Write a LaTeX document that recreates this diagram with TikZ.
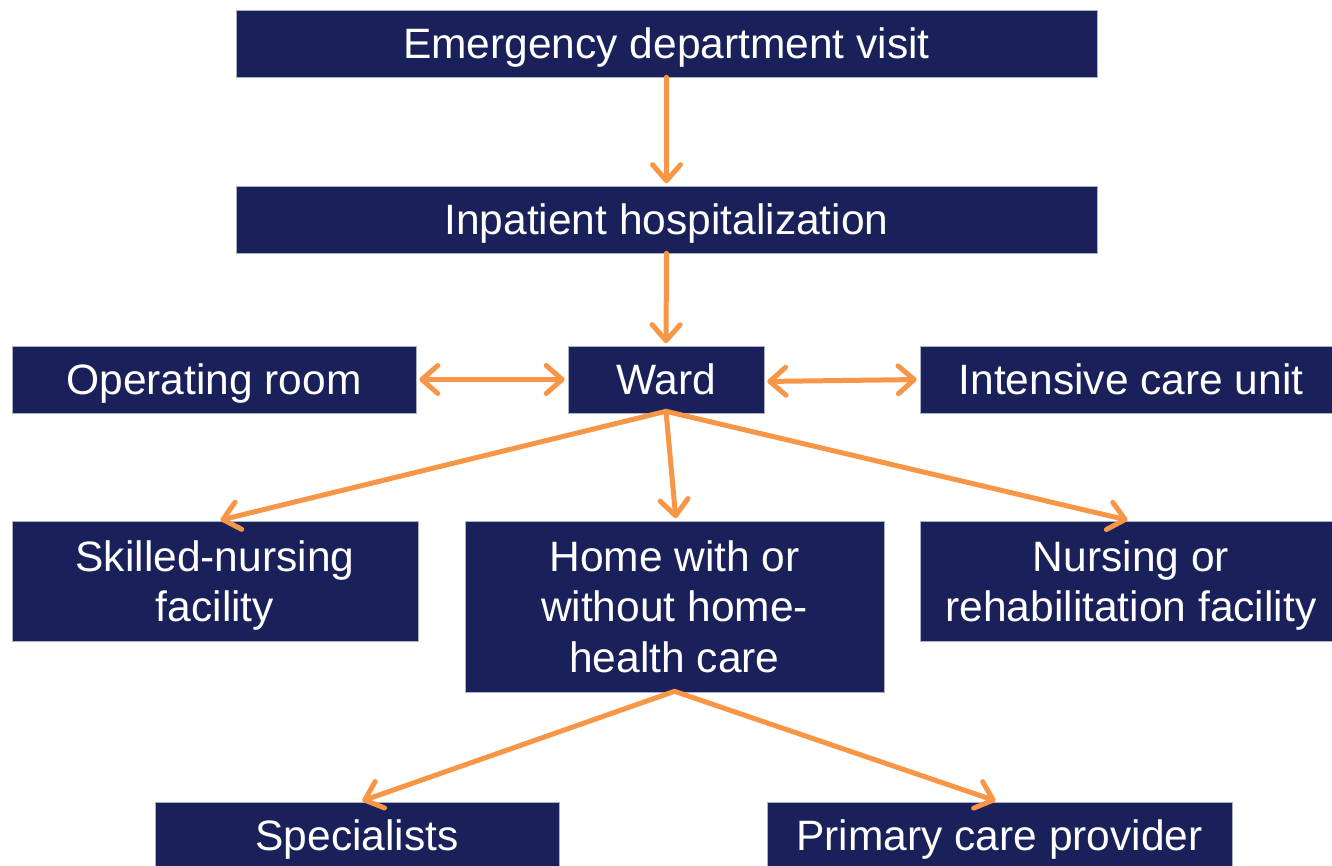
\documentclass[tikz,border=0pt]{standalone}
\usepackage{fontspec}
\setmainfont{Liberation Sans}
\usetikzlibrary{arrows.meta}
\definecolor{navy}{RGB}{26,33,90}
\definecolor{boxedge}{RGB}{170,176,200}
\definecolor{arroworange}{RGB}{247,150,70}
\tikzset{
  box/.style={fill=navy, draw=boxedge, line width=0.6pt, text=white, inner sep=0pt,
    font=\fontsize{42.5}{50.5}\selectfont, align=center, text depth=0pt},
  conn/.style={draw=arroworange, line width=5pt, line cap=round,
    -{Straight Barb[length=16pt, width=28pt, line cap=round, line join=round]},
    shorten >=2.5pt},
  dconn/.style={draw=arroworange, line width=5pt, line cap=round,
    {Straight Barb[length=16pt, width=28pt, line cap=round, line join=round]}-{Straight Barb[length=16pt, width=28pt, line cap=round, line join=round]},
    shorten >=3pt, shorten <=3pt}
}
\begin{document}
\begin{tikzpicture}[x=1pt,y=-1pt]
\useasboundingbox (0,0) rectangle (1332,866);
\clip (0,0) rectangle (1332,866);
\node[box, minimum width=861pt, minimum height=67pt] (ed) at (666.5,43.5) {Emergency department visit};
\node[box, minimum width=861pt, minimum height=67pt] (inp) at (666.5,219.5) {Inpatient hospitalization};
\node[box, minimum width=404pt, minimum height=67pt] (or) at (214,379.5) {Operating room};
\node[box, minimum width=196pt, minimum height=67pt] (ward) at (666,379.5) {Ward};
\node[box, minimum width=422pt, minimum height=67pt] (icu) at (1131,379.5) {Intensive care unit};
\node[box, minimum width=406pt, minimum height=120pt] (snf) at (215,581) {Skilled-nursing\\facility};
\node[box, minimum width=419pt, minimum height=171pt] (home) at (674.5,606.5) {Home with or\\without home-\\health care};
\node[box, minimum width=422pt, minimum height=120pt] (nrf) at (1131,581) {Nursing or\\rehabilitation facility};
\node[box, minimum width=404pt, minimum height=67pt] (spec) at (357,835.5) {Specialists};
\node[box, minimum width=465pt, minimum height=67pt] (pcp) at (999.5,835.5) {Primary care provider};

\draw[conn] (ed.south) -- (inp.north);
\draw[conn] (inp.south) -- (ward.north);
\draw[dconn] (or.east) -- (ward.west);
\draw[dconn] ([yshift=-2pt]ward.east) -- (icu.west);
\draw[conn] ([yshift=2pt]ward.south) -- ([xshift=3pt]snf.north);
\draw[conn] ([yshift=2pt]ward.south) -- ([xshift=1.5pt]home.north);
\draw[conn] ([yshift=2pt]ward.south) -- ([xshift=-1pt]nrf.north);
\draw[conn] ([yshift=1pt]home.south) -- ([xshift=3pt]spec.north);
\draw[conn] ([yshift=1pt]home.south) -- ([xshift=-1.5pt]pcp.north);
\end{tikzpicture}
\end{document}
